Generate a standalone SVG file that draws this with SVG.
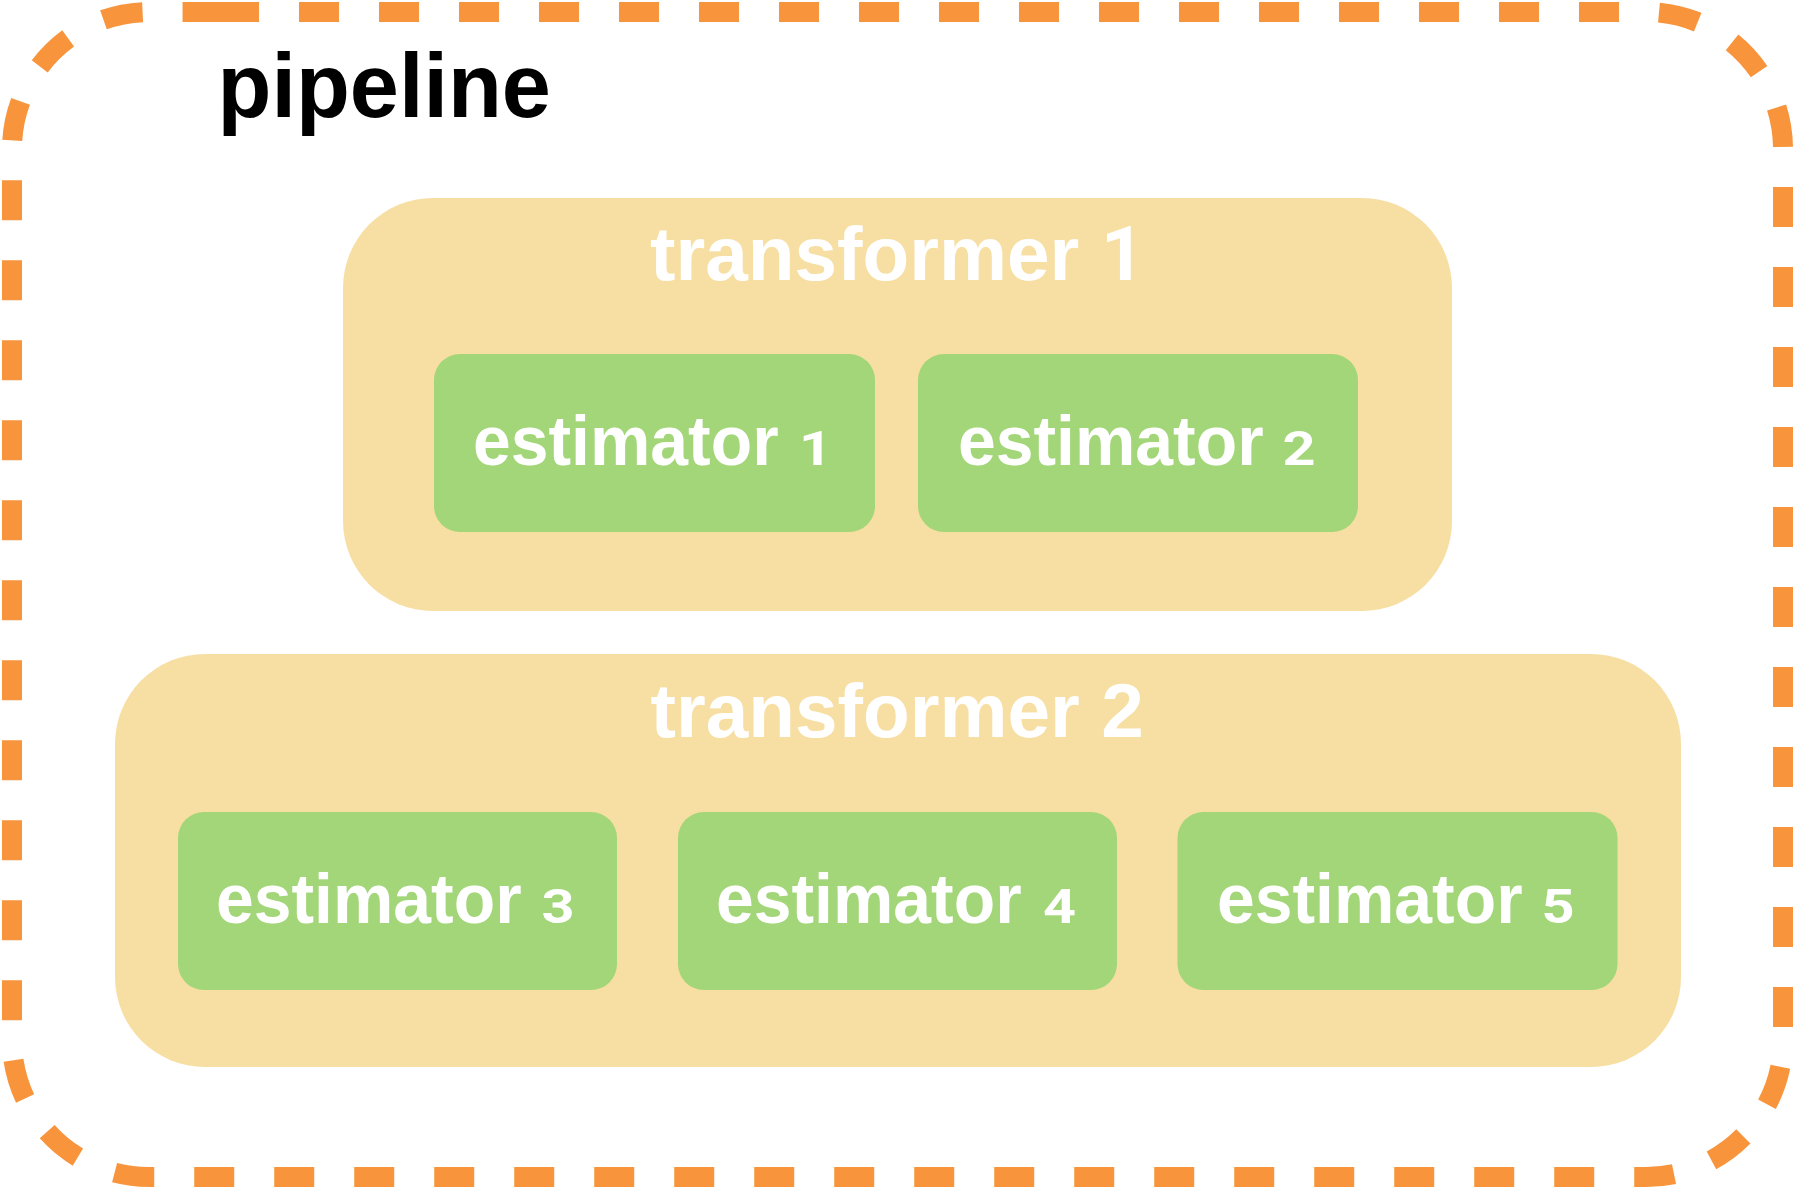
<svg xmlns="http://www.w3.org/2000/svg" width="1796" height="1190" viewBox="0 0 1796 1190">
  <style>
    .pipe { fill: none; stroke: #F8953C; stroke-width: 20; stroke-dasharray: 40 40; stroke-linecap: butt; }
    .trans { fill: #F7DFA3; }
    .est { fill: #A2D678; }
    .title { font-family: "Liberation Sans", Arial, sans-serif; font-weight: bold; fill: #FFFFFF; font-size: 76.5px; }
    .tnum { font-family: Roboto, "Liberation Sans", Arial, sans-serif; }
    .elabel { font-family: "Liberation Sans", Arial, sans-serif; font-weight: bold; fill: #FFFFFF; font-size: 70px; }
    .num { font-family: Roboto, "Liberation Sans", Arial, sans-serif; font-weight: bold; fill: #FFFFFF; font-size: 48px; text-anchor: middle; }
    .pipelabel { font-family: "Liberation Sans", Arial, sans-serif; font-weight: bold; fill: #000000; font-size: 91px; }
  </style>
  <rect x="0" y="0" width="1796" height="1190" fill="#FFFFFF"/>

  <g id="pipeline">
    <path class="pipe" d="M 219 12 H 1646 A 137 137 0 0 1 1783 149 V 1040 A 137 137 0 0 1 1646 1177 H 149 A 137 137 0 0 1 12 1040 V 149 A 137 137 0 0 1 149 12 Z"/>
    <text class="pipelabel" transform="translate(217.5,117.3) scale(0.97,1)">pipeline</text>
  </g>

  <g id="transformer1">
    <rect class="trans" x="343" y="198" width="1109" height="413" rx="90" ry="90"/>
    <text class="title" x="650" y="280">transformer <tspan class="tnum">1</tspan></text>
  </g>

  <g id="transformer2">
    <rect class="trans" x="115" y="654" width="1566" height="413" rx="90" ry="90"/>
    <text class="title" x="650.5" y="736.5">transformer 2</text>
  </g>

  <g id="estimator1">
    <rect class="est" x="434" y="354" width="441" height="178" rx="26" ry="26"/>
    <text class="elabel" transform="translate(473,465) scale(0.97,1)">estimator</text>
    <text class="num" transform="translate(815.5,465) scale(1.2,1)">1</text>
  </g>

  <g id="estimator2">
    <rect class="est" x="918" y="354" width="440" height="178" rx="26" ry="26"/>
    <text class="elabel" transform="translate(958,465) scale(0.97,1)">estimator</text>
    <text class="num" transform="translate(1299,465) scale(1.2,1)">2</text>
  </g>

  <g id="estimator3">
    <rect class="est" x="178" y="812" width="439" height="178" rx="26" ry="26"/>
    <text class="elabel" transform="translate(216,923.3) scale(0.97,1)">estimator</text>
    <text class="num" transform="translate(558,923.3) scale(1.2,1)">3</text>
  </g>

  <g id="estimator4">
    <rect class="est" x="678" y="812" width="439" height="178" rx="26" ry="26"/>
    <text class="elabel" transform="translate(716,923.3) scale(0.97,1)">estimator</text>
    <text class="num" transform="translate(1059.5,923.3) scale(1.2,1)">4</text>
  </g>

  <g id="estimator5">
    <rect class="est" x="1177.5" y="812" width="440" height="178" rx="26" ry="26"/>
    <text class="elabel" transform="translate(1217,923.3) scale(0.97,1)">estimator</text>
    <text class="num" transform="translate(1558,923.3) scale(1.2,1)">5</text>
  </g>

  <g id="connectors"></g>
</svg>
